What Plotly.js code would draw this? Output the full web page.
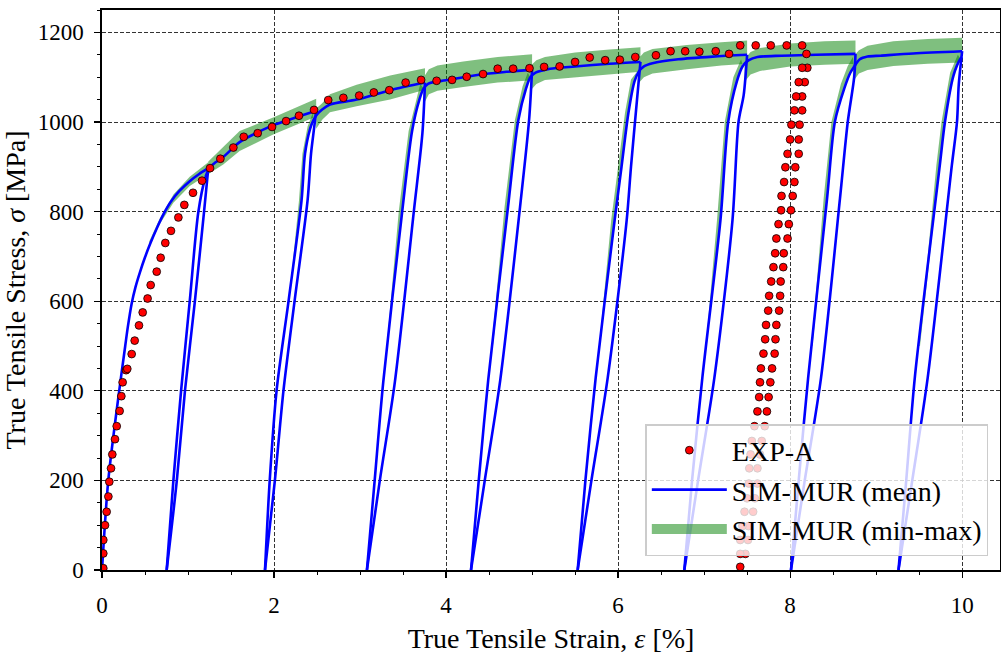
<!DOCTYPE html>
<html><head><meta charset="utf-8">
<script src="https://cdn.plot.ly/plotly-3.0.1.min.js"></script>
<style>html,body{margin:0;padding:0;background:#fff}#chart{width:1001px;height:657px}</style>
</head><body><div id="chart"></div>
<script>
// ---------- EXP-A (experimental points) ----------
const expLoadStrain = [0.015,0.015,0.015,0.035,0.054,0.074,0.085,0.105,0.12,0.151,0.171,0.205,0.225,0.24,0.28,0.294,0.345,0.38,0.43,0.473,0.53,0.566,0.636,0.682,0.736,0.802,0.888,0.957,1.058,1.163,1.256,1.376,1.527,1.648,1.81,1.977,2.14,2.29,2.465,2.63,2.806,2.99,3.16,3.34,3.53,3.71,3.89,4.07,4.24,4.43,4.6,4.78,4.97,5.14,5.32,5.5,5.67,5.85,6.02,6.2,6.44,6.61,6.78,6.945,7.135,7.29,7.42,7.6,7.775,7.96,8.14];
const expLoadStress = [4,37,67,100,130,164,197,227,258,292,321,355,388,419,446,449,482,512,546,575,606,636,666,697,730,757,787,815,842,869,897,918,943,967,975,989,1002,1014,1027,1049,1054,1059,1066,1071,1088,1094,1092,1094,1101,1107,1119,1119,1120,1123,1124,1134,1144,1138,1139,1145,1149,1158,1158,1157,1158,1152,1171,1171,1171,1171,1171];
const expOuterStrain = [8.19,8.20,8.17,8.14,8.14,8.11,8.10,8.10,8.06,8.05,8.03,8.01,7.985,7.97,7.926,7.92,7.89,7.884,7.872,7.84,7.83,7.82,7.79,7.77,7.75,7.73,7.705,7.67,7.65,7.62,7.62,7.59,7.57,7.515,7.51,7.48];
const expOuterStress = [1152,1121,1089,1057,1026,994,961,929,899,866,835,803,772,740,707,676,644,612,579,547,515,483,450,419,386,354,321,288,258,227,193,160,130,98,67,36];
const expInnerStrain = [7.42,7.42,7.42,7.445,7.47,7.50,7.52,7.525,7.54,7.555,7.585,7.62,7.64,7.65,7.66,7.69,7.71,7.72,7.745,7.756,7.78,7.806,7.826,7.84,7.865,7.895,7.90,7.93,7.945,7.97,8.0,8.015,8.05,8.07,8.10,8.14];
const expInnerStress = [7,36,67,98,130,160,193,227,258,288,321,354,386,419,450,483,515,547,579,612,644,676,707,740,772,803,835,866,899,929,961,994,1026,1057,1089,1121];

// ---------- SIM-MUR (mean): branches separated by null (loading | unloading | reloading+loading) ----------
const simStrain = [
 0,0.073,0.2,0.27,0.3,0.345,0.39,0.44,0.5,0.56,0.64,0.72,0.8,0.9,1.02,1.13,1.236, null,
 1.236,1.186,1.08,0.965,0.87,0.752, null,
 0.752,0.83,0.92,1.02,1.12,1.20,1.25,1.32,1.41,1.60,1.80,1.99,2.25,2.49, null,
 2.49,2.465,2.43,2.39,2.24,2.11,2.01,1.895, null,
 1.895,1.95,2.03,2.17,2.32,2.36,2.42,2.46,2.50,2.56,2.65,2.96,3.35,3.755, null,
 3.755,3.725,3.625,3.405,3.23,3.08, null,
 3.08,3.17,3.27,3.49,3.605,3.69,3.74,3.79,3.85,4.0,4.4,4.7,5.0, null,
 5.0,4.965,4.86,4.63,4.45,4.29, null,
 4.29,4.38,4.49,4.72,4.84,4.93,4.98,5.04,5.12,5.21,5.5,5.9,6.26, null,
 6.26,6.22,6.15,6.10,5.88,5.69,5.53, null,
 5.53,5.62,5.74,5.96,6.04,6.12,6.19,6.24,6.30,6.40,6.7,7.1,7.5, null,
 7.5,7.46,7.40,7.33,7.12,6.93,6.77, null,
 6.77,6.86,6.98,7.19,7.28,7.38,7.45,7.52,7.62,7.9,8.3,8.76, null,
 8.76,8.745,8.67,8.58,8.36,8.17,8.01, null,
 8.01,8.10,8.21,8.43,8.52,8.63,8.70,8.74,8.81,8.9,9.05,9.43,10.0, null,
 10.0,9.96,9.94,9.88,9.60,9.42,9.26, null,
 9.26,9.35,9.45,9.74,9.80,9.90,9.98,10.0
];
const simStress = [
 0,200,400,500,542,595,632,664,698,728,764,796,822,846,868,884,897, null,
 897,799,600,401,200,0, null,
 0,200,401,600,799,875,898,910,922,955,976,993,1010,1025, null,
 1025,985,929,825,602,401,200,0, null,
 0,200,401,602,825,929,985,1005,1017,1028,1039,1050,1071,1088, null,
 1088,975,800,420,200,0, null,
 0,200,420,800,980,1050,1075,1085,1089,1093,1106,1112,1117, null,
 1117,1004,810,424,200,0, null,
 0,200,424,810,1004,1075,1100,1110,1115,1119,1124,1130,1134, null,
 1134,1050,900,781,430,200,0, null,
 0,200,430,781,900,1020,1090,1112,1124,1131,1140,1146,1150, null,
 1150,1060,1000,781,430,200,0, null,
 0,200,430,781,1000,1090,1125,1138,1145,1148,1150,1152, null,
 1152,1100,1000,830,430,200,0, null,
 0,200,430,830,1000,1075,1110,1122,1140,1146,1148,1153,1158, null,
 1158,1082,1000,903,430,200,0, null,
 0,200,430,903,1000,1104,1141,1145
];

// ---------- SIM-MUR (min-max) band, one segment per loading stretch ----------
const bandStrain = [
 [0.55,0.67,0.83,1.02,1.236],
 [1.236,1.41,1.60,1.99,2.49],
 [2.49,2.56,2.65,2.96,3.35,3.755],
 [3.74,3.8,3.9,4.2,4.6,5.0],
 [4.98,5.05,5.15,5.5,5.9,6.26],
 [6.23,6.3,6.4,6.8,7.2,7.5],
 [7.47,7.54,7.65,8.0,8.4,8.76],
 [8.73,8.8,8.9,9.2,9.6,10.0]
];
const bandMax = [
 [734,784,838,878,910],
 [912,945,980,1010,1052],
 [1030,1042,1062,1083,1104,1120],
 [1100,1118,1126,1135,1145,1151],
 [1125,1138,1145,1155,1162,1167],
 [1140,1155,1163,1172,1178,1182],
 [1140,1156,1165,1175,1180,1182],
 [1145,1160,1170,1180,1185,1188]
];
const bandMin = [
 [722,772,820,857,884],
 [884,905,935,972,1012],
 [985,1005,1022,1035,1050,1072],
 [1040,1062,1070,1078,1088,1093],
 [1070,1085,1094,1100,1106,1112],
 [1085,1100,1108,1118,1126,1130],
 [1090,1106,1114,1124,1128,1130],
 [1090,1108,1116,1125,1130,1133]
];
// min-max spread along the reloading branches (closed outlines)
const bandReloadStrain = [
 [2.20,2.29,2.33,2.39,2.45,2.46,2.42,2.36,2.32,2.21],
 [3.31,3.45,3.565,3.65,3.70,3.74,3.69,3.605,3.49,3.32],
 [4.53,4.68,4.80,4.89,4.95,4.98,4.93,4.84,4.72,4.545],
 [5.78,5.92,6.00,6.08,6.15,6.22,6.19,6.12,6.04,5.96,5.79],
 [7.02,7.15,7.24,7.34,7.43,7.45,7.38,7.28,7.19,7.03],
 [8.25,8.39,8.48,8.59,8.67,8.73,8.74,8.70,8.63,8.52,8.43,8.26],
 [9.50,9.70,9.76,9.86,9.95,9.98,9.90,9.80,9.74,9.51]
];
const bandReloadStress = [
 [650,825,929,990,1020,1005,985,929,825,650],
 [500,800,980,1050,1085,1075,1050,980,800,500],
 [500,810,1004,1080,1110,1100,1075,1004,810,500],
 [500,781,900,1020,1095,1112,1090,1020,900,781,500],
 [500,781,1000,1100,1140,1125,1090,1000,781,500],
 [500,830,1000,1085,1125,1145,1122,1110,1075,1000,830,500],
 [500,903,1000,1110,1150,1141,1104,1000,903,500]
];

// build band polygons (separated by null gaps)
const bx = [], by = [];
bandStrain.forEach((xs, i) => {
  if (i > 0) { bx.push(null); by.push(null); }
  xs.forEach((x, j) => { bx.push(x); by.push(bandMax[i][j]); });
  for (let j = xs.length - 1; j >= 0; j--) { bx.push(xs[j]); by.push(bandMin[i][j]); }
});
const rx = [], ry = [];
bandReloadStrain.forEach((xs, i) => {
  if (i > 0) { rx.push(null); ry.push(null); }
  xs.forEach((x, j) => { rx.push(x); ry.push(bandReloadStress[i][j]); });
});

const expStrain = expLoadStrain.concat(expOuterStrain, expInnerStrain);
const expStress = expLoadStress.concat(expOuterStress, expInnerStress);

const FONT = 'Liberation Serif, Times New Roman, serif';
const GREEN = 'rgba(0,128,0,0.5)';

const traces = [
  {x: bx, y: by, type: 'scatter', mode: 'lines', fill: 'toself',
   fillcolor: GREEN, line: {width: 0, color: GREEN}, showlegend: false, hoverinfo: 'skip'},
  {x: rx, y: ry, type: 'scatter', mode: 'lines', fill: 'toself',
   fillcolor: GREEN, line: {width: 0, color: GREEN}, showlegend: false, hoverinfo: 'skip'},
  {x: simStrain, y: simStress, type: 'scatter', mode: 'lines', connectgaps: false,
   line: {color: '#0000ff', width: 2.6, shape: 'spline', smoothing: 0.8},
   name: 'SIM-MUR (mean)', legendrank: 2},
  {x: expStrain, y: expStress, type: 'scatter', mode: 'markers',
   marker: {color: '#ff0000', size: 7.8, line: {color: '#000000', width: 0.8}},
   name: 'EXP-A', legendrank: 1},
  // legend entry for the min-max band
  {x: [null], y: [null], type: 'scatter', mode: 'lines',
   line: {color: GREEN, width: 20}, name: 'SIM-MUR (min-max)', legendrank: 3}
];

const axisCommon = {
  showline: true, linecolor: '#000', linewidth: 1.6, mirror: true,
  ticks: 'outside', ticklen: 6, tickwidth: 1.2, tickcolor: '#000',
  showgrid: true, gridcolor: '#000', gridwidth: 0.8, griddash: '4px,2px',
  zeroline: false, tickfont: {family: FONT, size: 23, color: '#000'}
};

const layout = {
  width: 1001, height: 657,
  margin: {l: 102, r: 1, t: 10, b: 87},
  paper_bgcolor: '#fff', plot_bgcolor: '#fff',
  showlegend: true,
  xaxis: Object.assign({}, axisCommon, {
    range: [0, 10.44], dtick: 2, tick0: 0, ticklabelstandoff: 8,
    minor: {dtick: 0.5, ticklen: 3.5, ticks: 'outside', tickcolor: '#000', tickwidth: 1, showgrid: false},
    title: {text: 'True Tensile Strain, <i>ε</i> [%]', font: {family: FONT, size: 28, color: '#000'}, standoff: 11}
  }),
  yaxis: Object.assign({}, axisCommon, {
    range: [0, 1250], dtick: 200, tick0: 0, ticklabelstandoff: 6,
    minor: {dtick: 50, ticklen: 3.5, ticks: 'outside', tickcolor: '#000', tickwidth: 1, showgrid: false},
    title: {text: 'True Tensile Stress, <i>σ</i> [MPa]', font: {family: FONT, size: 28, color: '#000'}, standoff: 5}
  }),
  legend: {
    x: 0.987, xanchor: 'right', y: 0.025, yanchor: 'bottom',
    bgcolor: 'rgba(255,255,255,0.8)', bordercolor: '#cccccc', borderwidth: 1.5,
    font: {family: FONT, size: 28, color: '#000'},
    traceorder: 'normal', itemwidth: 75
  }
};

Plotly.newPlot('chart', traces, layout, {displayModeBar: false, staticPlot: true});
</script>
</body></html>
